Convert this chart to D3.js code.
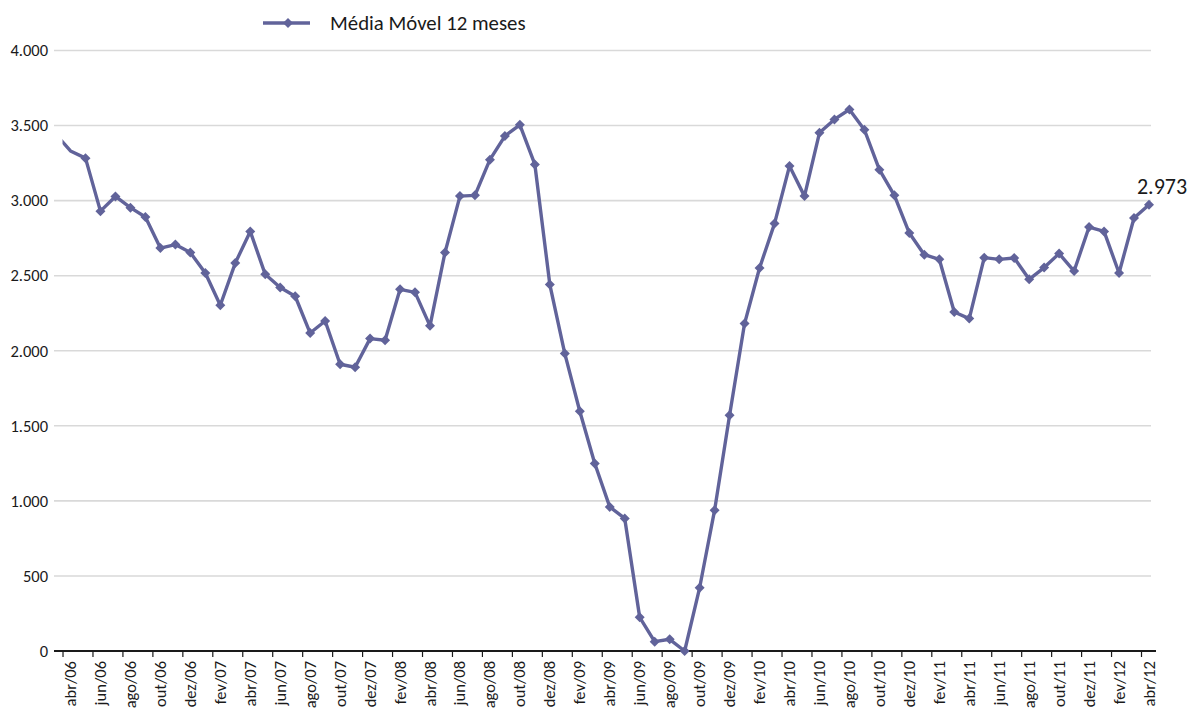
<!DOCTYPE html>
<html><head><meta charset="utf-8">
<script src="https://cdn.jsdelivr.net/npm/d3@7"></script>
<style>
html,body{margin:0;padding:0;background:#fff;}
svg{display:block;}
text{font-family:Calibri,Carlito,Lato,"Open Sans",sans-serif;fill:#1a1a1a;}
</style></head>
<body>
<svg id="chart" width="1191" height="711"></svg>
<script>
// Months (first entry lies before the visible axis and is clipped by the plot edge)
const months = ["mar/06",
 "abr/06","mai/06","jun/06","jul/06","ago/06","set/06","out/06","nov/06","dez/06",
 "jan/07","fev/07","mar/07","abr/07","mai/07","jun/07","jul/07","ago/07","set/07","out/07","nov/07","dez/07",
 "jan/08","fev/08","mar/08","abr/08","mai/08","jun/08","jul/08","ago/08","set/08","out/08","nov/08","dez/08",
 "jan/09","fev/09","mar/09","abr/09","mai/09","jun/09","jul/09","ago/09","set/09","out/09","nov/09","dez/09",
 "jan/10","fev/10","mar/10","abr/10","mai/10","jun/10","jul/10","ago/10","set/10","out/10","nov/10","dez/10",
 "jan/11","fev/11","mar/11","abr/11","mai/11","jun/11","jul/11","ago/11","set/11","out/11","nov/11","dez/11",
 "jan/12","fev/12","mar/12","abr/12"];
const mediaMovel = [3445,
 3331,3283,2930,3028,2953,2891,2684,2707,2654,
 2518,2303,2584,2795,2509,2421,2363,2118,2198,1910,1890,2081,
 2070,2409,2389,2166,2654,3030,3035,3273,3430,3505,3241,2441,
 1981,1597,1249,960,883,224,62,78,0,421,938,1571,
 2181,2551,2847,3230,3030,3452,3541,3607,3472,3206,3035,2784,
 2640,2609,2258,2214,2620,2609,2618,2476,2554,2647,2531,2824,
 2795,2518,2884,2973];
const yTicks = [0,500,1000,1500,2000,2500,3000,3500,4000];
const seriesName = "Média Móvel 12 meses";
const lastLabel = "2.973";

const color = "#61639a";
const svg = d3.select("#chart");
const fmt = v => d3.format(",")(v).replace(/,/g, ".");

const visible = months.slice(1);
const step = (1149 - 70.5) / (visible.length - 1);
const x = d3.scalePoint().domain(months).range([70.5 - step, 1149]);
const y = d3.scaleLinear().domain([0, 4000]).range([651, 50.5]);

// grid
svg.append("g").selectAll("line").data(yTicks.filter(d => d > 0)).join("line")
  .attr("x1", 54).attr("x2", 1151)
  .attr("y1", d => y(d)).attr("y2", d => y(d))
  .attr("stroke", "#d9d9d9").attr("stroke-width", 1.6);

// y labels
svg.append("g").selectAll("text").data(yTicks).join("text")
  .attr("x", 48).attr("y", d => y(d)).attr("dy", "0.35em")
  .attr("text-anchor", "end").attr("font-size", 16.5)
  .text(d => fmt(d));

// x axis line
svg.append("line").attr("x1", 54).attr("x2", 1156).attr("y1", y(0)).attr("y2", y(0))
  .attr("stroke", "#1a1a1a").attr("stroke-width", 2.2);

// ticks and labels every two months
const labeled = visible.filter((d, i) => i % 2 === 0);
svg.append("g").selectAll("line").data(labeled).join("line")
  .attr("x1", d => x(d) - step / 2).attr("x2", d => x(d) - step / 2)
  .attr("y1", y(0)).attr("y2", y(0) + 6)
  .attr("stroke", "#1a1a1a").attr("stroke-width", 1.2);
svg.append("g").selectAll("text").data(labeled).join("text")
  .attr("transform", d => `translate(${x(d) + 5.5},${y(0) + 10}) rotate(-90)`)
  .attr("text-anchor", "end").attr("font-size", 16.5)
  .text(d => d);

// clip
svg.append("clipPath").attr("id", "plotclip").append("rect")
  .attr("x", x(visible[0]) - step / 2 - 0.5).attr("y", 0).attr("width", 1191).attr("height", 711);

const pts = months.map((m, i) => ({m, v: mediaMovel[i], i}));
const line = d3.line().x(d => x(d.m)).y(d => y(d.v));
svg.append("path").datum(pts).attr("clip-path", "url(#plotclip)")
  .attr("d", line).attr("fill", "none").attr("stroke", color)
  .attr("stroke-width", 3.4).attr("stroke-linejoin", "round");

svg.append("g").selectAll("path").data(pts.filter(d => d.i >= 2)).join("path")
  .attr("transform", d => `translate(${x(d.m)},${y(d.v)}) rotate(45)`)
  .attr("d", d3.symbol().type(d3.symbolSquare).size(50)).attr("fill", color);

// data label
const last = pts[pts.length - 1];
svg.append("text").attr("x", x(last.m) + 13).attr("y", y(last.v) - 11)
  .attr("text-anchor", "middle").attr("font-size", 22).text(lastLabel);

// legend
const lg = svg.append("g");
lg.append("line").attr("x1", 263).attr("x2", 310).attr("y1", 23).attr("y2", 23)
  .attr("stroke", color).attr("stroke-width", 3.4);
lg.append("path").attr("transform", "translate(288,23) rotate(45)")
  .attr("d", d3.symbol().type(d3.symbolSquare).size(50)).attr("fill", color);
lg.append("text").attr("x", 330).attr("y", 23).attr("dy", "0.35em")
  .attr("font-size", 20.8).text(seriesName);
</script>
</body></html>
